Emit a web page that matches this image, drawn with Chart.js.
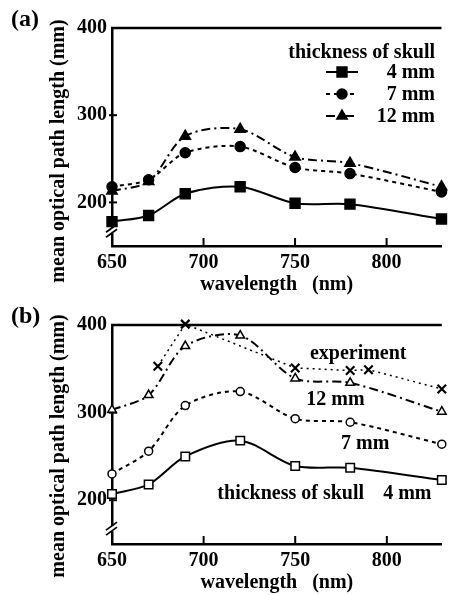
<!DOCTYPE html>
<html>
<head>
<meta charset="utf-8">
<script src="https://cdn.jsdelivr.net/npm/chart.js@4/dist/chart.umd.min.js"></script>
<style>
  body { margin: 0; background: #fff; }
  canvas { display: block; }
</style>
</head>
<body>
<canvas id="panelA" width="450" height="297"></canvas>
<canvas id="panelB" width="450" height="298"></canvas>
<script>
// -----------------------------
// Data
// -----------------------------
const wavelengths = [650, 670, 690, 720, 750, 780, 830];

// (a) simulated path length, thickness of skull 4 / 7 / 12 mm
const pathA4 = [178, 185, 210, 218, 199, 198, 181];
const pathA7 = [218, 226, 257, 264, 240, 233, 212];
const pathA12 = [213, 224, 276, 284, 252, 245, 218];

// (b) simulated path length + experiment
const pathB4 = [207, 218, 250, 268, 239, 237, 223];
const pathB7 = [230, 256, 308, 324, 293, 289, 264];
const pathB12 = [303, 320, 376, 388, 339, 334, 301];
const expWavelengths = [675, 690, 750, 780, 790, 830];
const expPath = [353, 401, 351, 348, 349, 327];

const xTicks = [650, 700, 750, 800];
const yTicks = [200, 300, 400];


// -----------------------------
// Shared look
// -----------------------------
const FONT = '"Liberation Serif", "Times New Roman", serif';
const font20 = { family: FONT, size: 20, weight: "bold" };

function series(label, xs, ys, style) {
  return Object.assign({
    label: label,
    data: xs.map((x, i) => ({ x: x, y: ys[i] })),
    borderColor: "#000",
    pointBorderColor: "#000",
    borderWidth: 2,
    pointBorderWidth: 1.5,
    tension: 0.3,
    clip: false
  }, style);
}

const solid = [];
const dotted = [4, 4];
const dashDot = [9, 4, 2, 4];
const fine = [2, 4];


// -----------------------------
// Frame, ticks, axis break, panel letter, labels
// -----------------------------
const panelDecor = {
  id: "panelDecor",
  afterDraw(chart, args, opts) {
    const { ctx, chartArea: a, scales: { x, y } } = chart;
    ctx.save();
    ctx.strokeStyle = "#000";
    ctx.fillStyle = "#000";
    ctx.setLineDash([]);

    // top frame line
    ctx.lineWidth = 2.5;
    ctx.beginPath();
    ctx.moveTo(a.left - 1, a.top);
    ctx.lineTo(a.right, a.top);
    ctx.stroke();

    // inward tick marks
    ctx.lineWidth = 2;
    xTicks.slice(1).forEach(v => {
      const px = x.getPixelForValue(v);
      ctx.beginPath();
      ctx.moveTo(px, a.bottom);
      ctx.lineTo(px, a.bottom - 8);
      ctx.stroke();
    });
    yTicks.slice(0, 2).forEach(v => {
      const py = y.getPixelForValue(v);
      ctx.beginPath();
      ctx.moveTo(a.left - 3, py);
      ctx.lineTo(a.left + 5, py);
      ctx.stroke();
    });

    // axis break on the y axis
    const by = y.getPixelForValue(167);
    ctx.fillStyle = "#fff";
    ctx.fillRect(a.left - 3, by - 3, 6, 5);
    ctx.lineWidth = 1.8;
    [-3, 2].forEach(d => {
      ctx.beginPath();
      ctx.moveTo(a.left - 6, by + d + 4);
      ctx.lineTo(a.left + 5, by + d - 4);
      ctx.stroke();
    });

    // panel letter
    ctx.fillStyle = "#000";
    ctx.font = "bold 24px " + FONT;
    ctx.textBaseline = "middle";
    ctx.textAlign = "left";
    ctx.fillText(opts.letter, 11, 20);

    // y axis title, rotated
    ctx.save();
    ctx.font = "bold 20px " + FONT;
    ctx.textAlign = "center";
    ctx.textBaseline = "middle";
    ctx.translate(opts.yTitle.x, opts.yTitle.y);
    ctx.rotate(-Math.PI / 2);
    ctx.fillText(opts.yTitle.text, 0, 0);
    ctx.restore();

    // legend box (panel a)
    if (opts.legend) {
      const L = opts.legend;
      ctx.font = "bold 20px " + FONT;
      ctx.textBaseline = "alphabetic";
      ctx.textAlign = "right";
      ctx.fillText(L.title, L.right, L.top);
      chart.data.datasets.forEach((ds, i) => {
        const yy = L.top + 20 + i * 22;
        ctx.fillText(ds.label, L.right, yy);
        const cy = yy - 6;
        ctx.lineWidth = ds.borderWidth;
        ctx.setLineDash(ds.borderDash || []);
        ctx.beginPath();
        ctx.moveTo(L.sampleLeft, cy);
        ctx.lineTo(L.sampleLeft + 32, cy);
        ctx.stroke();
        ctx.setLineDash([]);
        ctx.fillStyle = ds.pointBackgroundColor;
        ctx.lineWidth = ds.pointBorderWidth;
        Chart.helpers.drawPoint(ctx, {
          pointStyle: ds.pointStyle,
          radius: ds.pointRadius,
          borderWidth: ds.pointBorderWidth
        }, L.sampleLeft + 16, cy);
        ctx.fillStyle = "#000";
      });
    }

    // in-plot labels (panel b)
    if (opts.notes) {
      ctx.font = "bold 20px " + FONT;
      ctx.textBaseline = "alphabetic";
      ctx.textAlign = "left";
      opts.notes.forEach(n => {
        ctx.fillText(n.text, x.getPixelForValue(n.x), y.getPixelForValue(n.y));
      });
    }

    ctx.restore();
  }
};


// -----------------------------
// Chart builder
// -----------------------------
function makePanel(canvasId, datasets, decor) {
  return new Chart(document.getElementById(canvasId), {
    type: "line",
    data: { datasets: datasets },
    plugins: [panelDecor],
    options: {
      responsive: false,
      animation: false,
      events: [],
      layout: { padding: { top: 28, left: 0, right: 0, bottom: 0 } },
      plugins: {
        legend: { display: false },
        tooltip: { enabled: false },
        panelDecor: decor
      },
      scales: {
        x: {
          type: "linear",
          min: 650,
          max: 830,
          afterBuildTicks: s => { s.ticks = xTicks.map(v => ({ value: v })); },
          afterFit: s => { s.height = 51; },
          grid: { display: false, drawTicks: false },
          border: { display: true, color: "#000", width: 2.5 },
          ticks: { color: "#000", font: font20, padding: 5, maxRotation: 0 },
          title: { display: true, text: "wavelength   (nm)", color: "#000", font: font20, padding: 0 }
        },
        y: {
          type: "linear",
          min: 150,
          max: 400,
          afterBuildTicks: s => { s.ticks = yTicks.map(v => ({ value: v })); },
          afterFit: s => { s.width = 112; },
          grid: { display: false, drawTicks: false },
          border: { display: true, color: "#000", width: 2.5 },
          ticks: { color: "#000", font: font20, padding: 5 },
          title: { display: false }
        }
      }
    }
  });
}

const yTitleText = "mean optical path length (mm)";

// (a) filled markers with legend
makePanel("panelA", [
  series("4 mm", wavelengths, pathA4, { borderDash: solid, pointStyle: "rect", pointRadius: 7, pointBackgroundColor: "#000" }),
  series("7 mm", wavelengths, pathA7, { borderDash: dotted, pointStyle: "circle", pointRadius: 5, pointBackgroundColor: "#000" }),
  series("12 mm", wavelengths, pathA12, { borderDash: dashDot, pointStyle: "triangle", pointRadius: 6, pointBackgroundColor: "#000" })
], {
  letter: "(a)",
  yTitle: { text: yTitleText, x: 59, y: 151 },
  legend: { title: "thickness of skull", right: 435, top: 58, sampleLeft: 326 }
});

// (b) open markers, experiment crosses
makePanel("panelB", [
  series("4 mm", wavelengths, pathB4, { borderDash: solid, pointStyle: "rect", pointRadius: 6, pointBackgroundColor: "#fff" }),
  series("7 mm", wavelengths, pathB7, { borderDash: dotted, pointStyle: "circle", pointRadius: 4, pointBackgroundColor: "#fff" }),
  series("12 mm", wavelengths, pathB12, { borderDash: dashDot, pointStyle: "triangle", pointRadius: 5, pointBackgroundColor: "#fff" }),
  series("experiment", expWavelengths, expPath, { borderDash: fine, borderWidth: 1.5, tension: 0, pointStyle: "crossRot", pointRadius: 6, pointBorderWidth: 2.2, pointBackgroundColor: "#fff" })
], {
  letter: "(b)",
  yTitle: { text: yTitleText, x: 59, y: 149 },
  notes: [
    { text: "experiment", x: 758, y: 361 },
    { text: "12 mm", x: 756, y: 309 },
    { text: "7 mm", x: 775, y: 258 },
    { text: "thickness of skull", x: 707.5, y: 201 },
    { text: "4 mm", x: 798, y: 201 }
  ]
});
</script>
</body>
</html>
